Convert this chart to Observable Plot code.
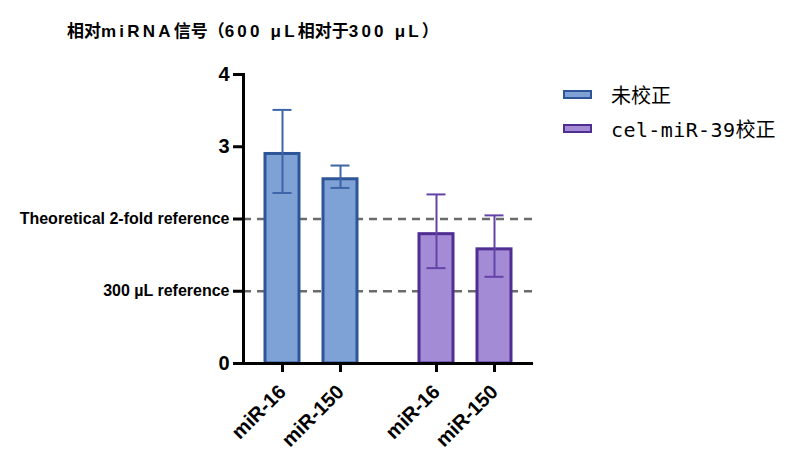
<!DOCTYPE html>
<html>
<head>
<meta charset="utf-8">
<script src="https://cdn.jsdelivr.net/npm/d3@7"></script>
<script src="https://cdn.jsdelivr.net/npm/@observablehq/plot@0.6"></script>
<style>
  html, body { margin: 0; padding: 0; background: #fff; }
  #wrap { position: relative; width: 800px; height: 474px; overflow: hidden; font-family: "Liberation Sans", Arial, "Noto Sans CJK SC", sans-serif; }
  #title { height: 50px; position: relative; }
  #title span.t { position: absolute; left: 67px; top: 20px; font-size: 17px; line-height: 20px; font-weight: bold; white-space: nowrap; color: #000; font-family: "Liberation Sans", Arial, "Noto Sans CJK SC", sans-serif; }
  #title .lat { letter-spacing: 3.2px; }
  #title .cjk { font-family: "Noto Sans CJK SC", sans-serif; font-weight: 700; }
  .legend { position: absolute; left: 563px; display: flex; align-items: center; height: 24px; }
  .legend .sw { width: 25px; height: 5px; border: 2.5px solid; margin-right: 19px; }
  .legend .lab { font-size: 20px; font-family: "DejaVu Sans Mono", "Noto Sans CJK SC", monospace; color: #000; white-space: nowrap; letter-spacing: 0.4px; }
  .legend .lab .cjk { font-family: "Noto Sans CJK SC", sans-serif; letter-spacing: 0; }
</style>
</head>
<body>
<div id="wrap">
  <div id="title"><span class="t"><span class="cjk">相对</span><span class="lat">miRNA</span><span class="cjk">信号（</span><span class="lat">600 μL</span><span class="cjk">相对于</span><span class="lat">300 μL</span><span class="cjk">）</span></span></div>
  <div id="chart"></div>
  <div class="legend" style="top:82px"><div class="sw" style="background:#7fa2d6;border-color:#2e5597"></div><div class="lab"><span class="cjk">未校正</span></div></div>
  <div class="legend" style="top:116px"><div class="sw" style="background:#a48bd6;border-color:#4f2d91"></div><div class="lab">cel-miR-39<span class="cjk">校正</span></div></div>
</div>
<script>
// ---- data ----
const groups = ["未校正", "cel-miR-39校正"];
const mirnas = ["miR-16", "miR-150"];
const means = [2.90, 2.55, 1.79, 1.58];
const errLow = [2.36, 2.43, 1.32, 1.20];
const errHigh = [3.51, 2.74, 2.34, 2.05];
const yNumTicks = [0, 3, 4];
const yRefTicks = [1, 2];
const yRefLabels = ["300 µL reference", "Theoretical 2-fold reference"];
const refLines = [1, 2];

// ---- styles ----
const fillColors = ["#7fa2d6", "#a48bd6"];
const strokeColors = ["#2e5597", "#4f2d91"];
const errColors = ["#3d65a8", "#6543a6"];

const rows = groups.flatMap((g, gi) => mirnas.map((m, mi) => ({
  group: g, gi, mirna: m,
  mean: means[gi * 2 + mi], lo: errLow[gi * 2 + mi], hi: errHigh[gi * 2 + mi]
})));

const refRows = (gi) => refLines.map(y => ({y, group: groups[gi]}));

const plot = Plot.plot({
  width: 800,
  height: 424,
  marginTop: 24,
  marginBottom: 111,
  marginLeft: 243,
  marginRight: 267,
  style: {fontFamily: "'Liberation Sans', Arial, sans-serif", color: "#000", background: "#fff"},
  color: {type: "identity"},
  fx: {domain: groups, paddingInner: 0.117, paddingOuter: 0, axis: null, label: null},
  x: {domain: mirnas, paddingInner: 0.414, paddingOuter: 0.379, label: null},
  y: {domain: [0, 4], label: null},
  marks: [
    Plot.ruleY(refRows(0), {y: "y", fx: "group", stroke: "#6b6b6b", strokeWidth: 2.6, strokeDasharray: "8,6", insetRight: -9}),
    Plot.ruleY(refRows(1), {y: "y", fx: "group", stroke: "#6b6b6b", strokeWidth: 2.6, strokeDasharray: "8,6", insetLeft: -9, strokeDashoffset: 4}),
    Plot.barY(rows, {fx: "group", x: "mirna", y: "mean", fill: d => fillColors[d.gi], stroke: d => strokeColors[d.gi], strokeWidth: 3}),
    Plot.ruleX(rows, {fx: "group", x: "mirna", y1: "lo", y2: "hi", stroke: d => errColors[d.gi], strokeWidth: 2}),
    Plot.tickY(rows, {fx: "group", x: "mirna", y: "hi", stroke: d => errColors[d.gi], strokeWidth: 2, insetLeft: 7.5, insetRight: 7.5}),
    Plot.tickY(rows, {fx: "group", x: "mirna", y: "lo", stroke: d => errColors[d.gi], strokeWidth: 2, insetLeft: 7.5, insetRight: 7.5}),
    Plot.ruleY([{group: groups[0]}], {y: () => 0, fx: "group", stroke: "#000", strokeWidth: 3, insetRight: -9, insetLeft: -1.5}),
    Plot.ruleY([{group: groups[1]}], {y: () => 0, fx: "group", stroke: "#000", strokeWidth: 3, insetLeft: -9}),
    Plot.frame({anchor: "left", facetAnchor: "left", stroke: "#000", strokeWidth: 3}),
    Plot.axisY({ticks: yNumTicks, tickFormat: d3.format("d"), tickSize: 10, tickPadding: 4, fontSize: 20, fontWeight: "bold", stroke: "#000", strokeWidth: 3, label: null}),
    Plot.axisY({ticks: yRefTicks, tickFormat: d => yRefLabels[yRefTicks.indexOf(d)], tickSize: 10, tickPadding: 4, fontSize: 16, fontWeight: "bold", stroke: "#000", strokeWidth: 3, label: null}),
    Plot.axisX({tickSize: 9, tickRotate: -45, tickPadding: 16, fontSize: 20, fontWeight: "bold", stroke: "#000", strokeWidth: 3, label: null})
  ]
});
document.getElementById("chart").appendChild(plot);
</script>
</body>
</html>
